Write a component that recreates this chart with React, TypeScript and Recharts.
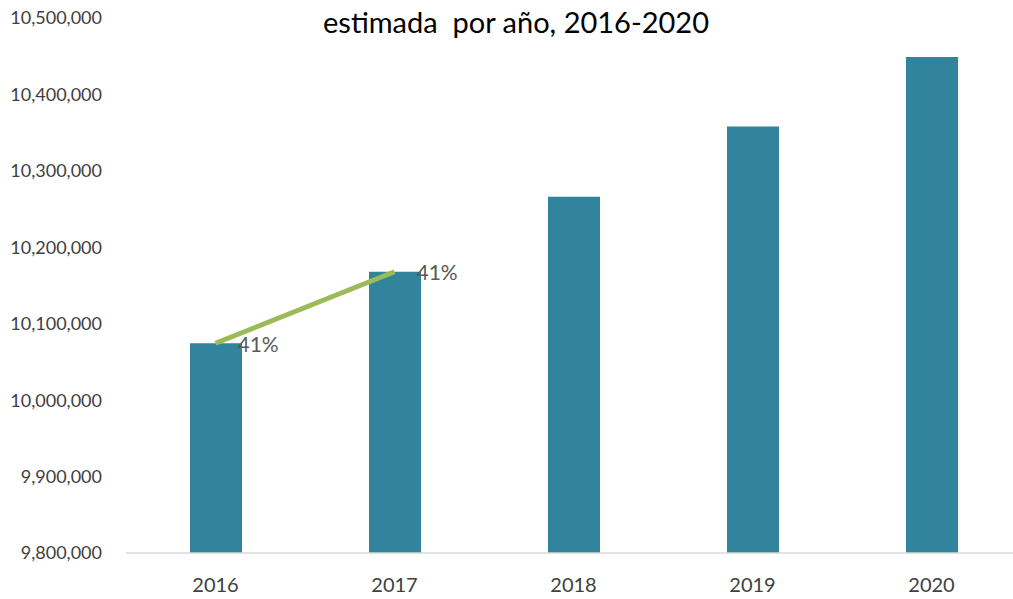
import type { FC } from 'react';
import { Bar, ComposedChart, LabelList, Line, XAxis, YAxis } from 'recharts';

const years = ['2016', '2017', '2018', '2019', '2020'];
const totals = [10074400, 10168000, 10266000, 10358000, 10449000];
const trend = [10074400, 10168000, null, null, null];
const trendLabels = ['41%', '41%', '', '', ''];
const yTicks = [9800000, 9900000, 10000000, 10100000, 10200000, 10300000, 10400000, 10500000];

const data = years.map((year, i) => ({
  year,
  total: totals[i],
  trend: trend[i],
  label: trendLabels[i],
}));

const FONT = 'Lato, "Open Sans", sans-serif';

const TrendLabel: FC<any> = ({ x, y, value }) => {
  if (!value || x == null || y == null) return null;
  return (
    <text x={x + 22} y={y + 3} fill="#595959" fontSize={21} fontFamily={FONT} dominantBaseline="middle">
      {value}
    </text>
  );
};

const App: FC = () => {
  return (
    <div style={{ position: 'absolute', top: 0, left: 0, width: 1013, height: 599, overflow: 'hidden', background: '#fff' }}>
      <div
        style={{
          position: 'absolute',
          top: 4,
          left: 0,
          width: 1032,
          textAlign: 'center',
          whiteSpace: 'pre',
          fontFamily: FONT,
          fontSize: 29,
          color: '#000',
        }}
      >
        estimada  por año, 2016-2020
      </div>
      <ComposedChart width={1030} height={599} data={data} margin={{ top: 18, right: 9, left: 0, bottom: 0 }}>
        <XAxis
          dataKey="year"
          height={46}
          tickLine={false}
          axisLine={{ stroke: '#d9d9d9', strokeWidth: 1.5 }}
          tick={{ fill: '#404040', fontSize: 20, fontFamily: FONT }}
          tickMargin={19}
        />
        <YAxis
          width={126}
          domain={[9800000, 10500000]}
          ticks={yTicks}
          allowDataOverflow
          axisLine={false}
          tickLine={false}
          tickMargin={18}
          tick={{ fill: '#404040', fontSize: 18, fontFamily: FONT }}
          tickFormatter={(v: number) => v.toLocaleString('en-US')}
        />
        <Bar dataKey="total" fill="#31849B" barSize={52} isAnimationActive={false} />
        <Line
          dataKey="trend"
          stroke="#9BBB59"
          strokeWidth={5}
          dot={false}
          activeDot={false}
          connectNulls={false}
          isAnimationActive={false}
        >
          <LabelList dataKey="label" content={<TrendLabel />} />
        </Line>
      </ComposedChart>
    </div>
  );
};

export default App;
